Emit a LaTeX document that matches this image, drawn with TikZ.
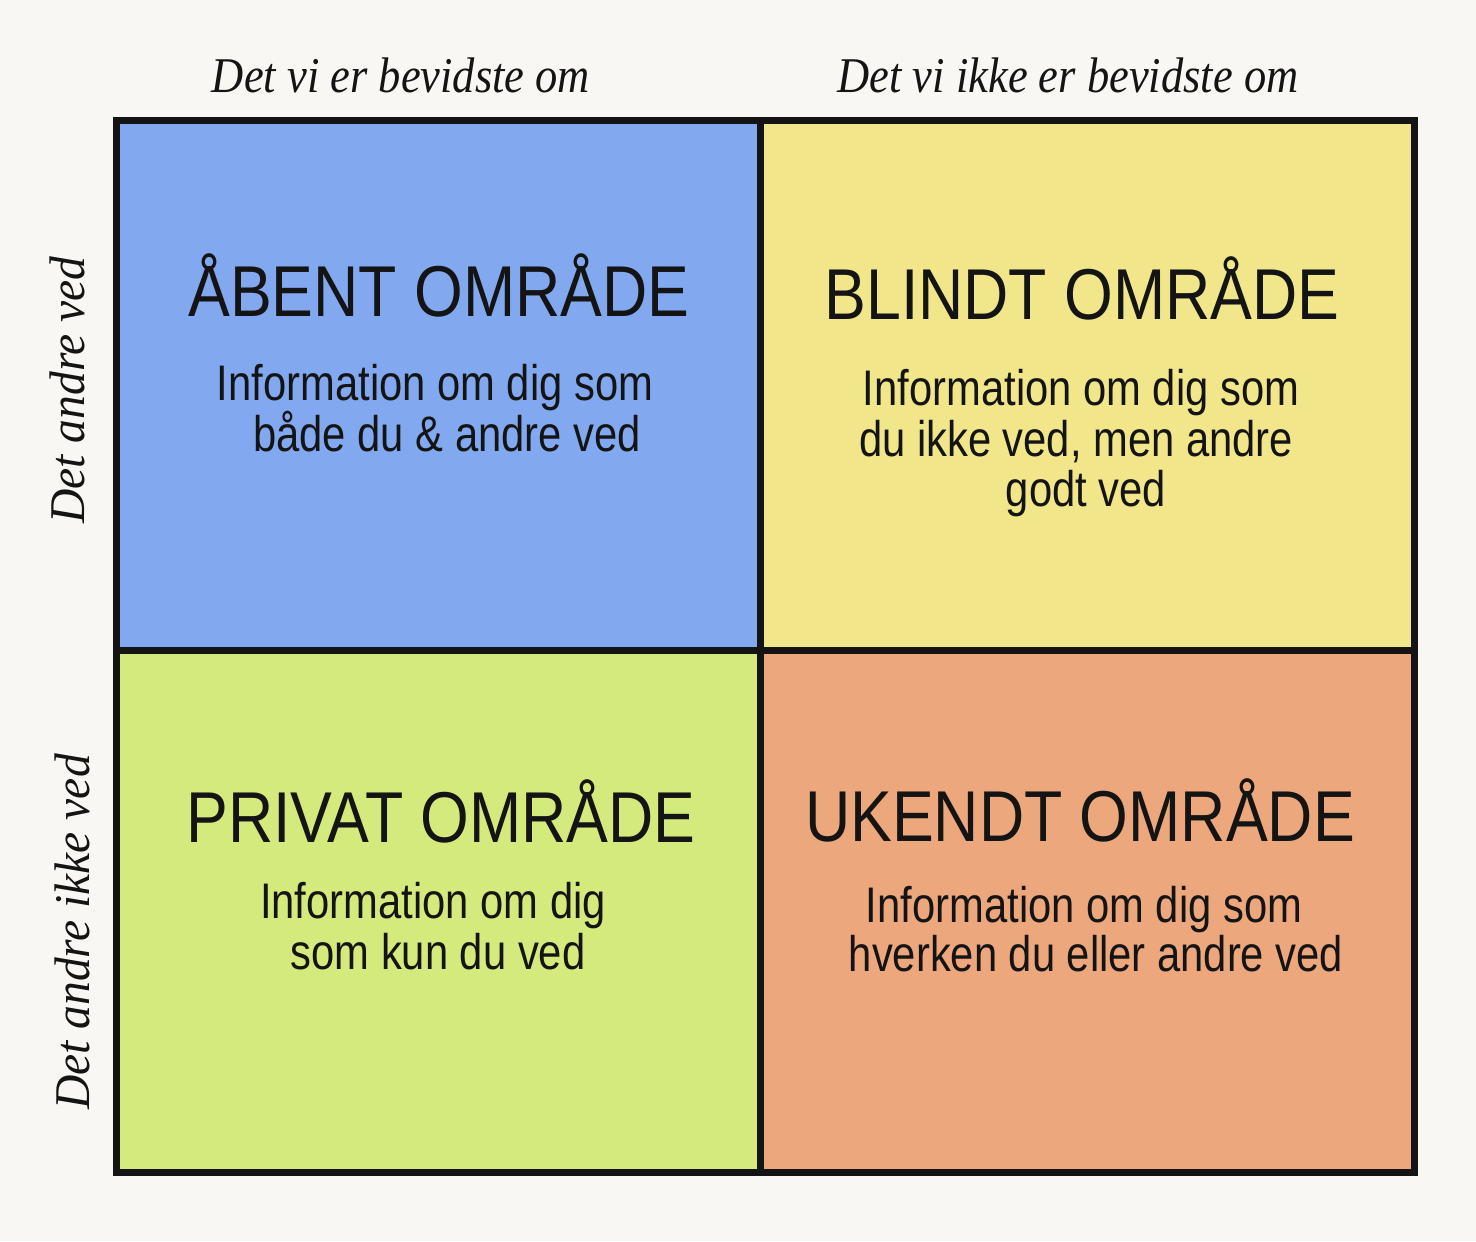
\documentclass[tikz,border=0pt]{standalone}
\usepackage{fontspec}
\setmainfont{Liberation Sans}
\newfontfamily\headfont[FakeStretch=0.87]{Liberation Sans}
\newfontfamily\bodyfont[FakeStretch=0.835]{Liberation Sans}
\newfontfamily\labfontH[FakeStretch=0.89]{Liberation Serif}
\newfontfamily\labfontV[FakeStretch=0.95]{Liberation Serif}
\definecolor{bgpaper}{HTML}{F8F7F3}
\definecolor{openblue}{HTML}{82A9EF}
\definecolor{blindyellow}{HTML}{F1E68A}
\definecolor{privgreen}{HTML}{D4EA7C}
\definecolor{unkorange}{HTML}{EDA77C}
\definecolor{inkblack}{HTML}{141414}
\tikzset{
  cell/.style={rectangle, inner sep=0pt, draw=none},
  head/.style={anchor=base, inner sep=0pt, text=inkblack, font=\headfont\fontsize{36}{40}\selectfont},
  body/.style={anchor=base, inner sep=0pt, text=inkblack, font=\bodyfont\fontsize{25}{30}\selectfont},
  labh/.style={anchor=base, inner sep=0pt, text=inkblack, font=\labfontH\itshape\fontsize{25}{30}\selectfont},
  labv/.style={anchor=base, inner sep=0pt, rotate=90, text=inkblack, font=\labfontV\itshape\fontsize{25}{30}\selectfont},
  gridline/.style={line width=3.5pt, draw=inkblack, line cap=rect, line join=miter}
}
\begin{document}
\begin{tikzpicture}[x=0.5pt, y=-0.5pt]
\useasboundingbox (0,0) rectangle (1476,1241);
\fill[bgpaper] (0,0) rectangle (1476,1241);

% quadrants
\node[cell, fill=openblue, minimum width=321.5pt, minimum height=264.5pt] (open) at (438.5,385.5) {};
\node[cell, fill=blindyellow, minimum width=327pt, minimum height=264.5pt] (blind) at (1087,385.5) {};
\node[cell, fill=privgreen, minimum width=321.5pt, minimum height=261pt] (private) at (438.5,911) {};
\node[cell, fill=unkorange, minimum width=327pt, minimum height=261pt] (unknown) at (1087,911) {};

% grid
\draw[gridline] (open.north west) rectangle (unknown.south east);
\draw[gridline] (open.north east) -- (private.south east);
\draw[gridline] (open.south west) -- (blind.south east);

% axis labels
\node[labh] (colA) at (401,93) {Det vi er bevidste om};
\node[labh] (colB) at (1068,93) {Det vi ikke er bevidste om};
\node[labv] (rowA) at (84,390) {Det andre ved};
\node[labv] (rowB) at (89,932) {Det andre ikke ved};

% top-left
\node[head] (openT) at (439,316) {ÅBENT OMRÅDE};
\node[body] (openL1) at (435,400) {Information om dig som};
\node[body] (openL2) at (447,451) {både du \& andre ved};

% top-right
\node[head] (blindT) at (1082,319) {BLINDT OMRÅDE};
\node[body] (blindL1) at (1081,405) {Information om dig som};
\node[body] (blindL2) at (1076,456) {du ikke ved, men andre};
\node[body] (blindL3) at (1086,506) {godt ved};

% bottom-left
\node[head] (privT) at (441,842) {PRIVAT OMRÅDE};
\node[body] (privL1) at (433,918) {Information om dig};
\node[body] (privL2) at (438,969) {som kun du ved};

% bottom-right
\node[head] (unkT) at (1080,841) {UKENDT OMRÅDE};
\node[body] (unkL1) at (1084,922) {Information om dig som};
\node[body] (unkL2) at (1096,971) {hverken du eller andre ved};
\end{tikzpicture}
\end{document}
